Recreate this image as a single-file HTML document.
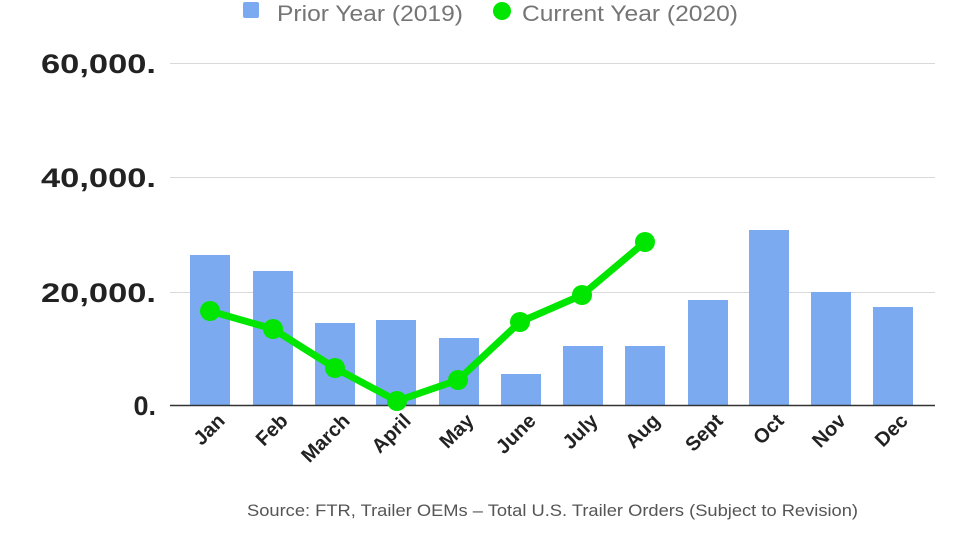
<!DOCTYPE html>
<html><head><style>body{margin:0;background:#fff}svg{display:block}</style></head><body>
<svg width="980" height="552" xmlns="http://www.w3.org/2000/svg" font-family="Liberation Sans, sans-serif">
<rect x="243" y="2" width="16" height="16" rx="2" fill="#7baaf0"/>
<text x="277" y="21" font-size="22" fill="#757575" textLength="186" lengthAdjust="spacingAndGlyphs">Prior Year (2019)</text>
<circle cx="502" cy="11" r="9" fill="#00e600"/>
<text x="522" y="21" font-size="22" fill="#757575" textLength="216" lengthAdjust="spacingAndGlyphs">Current Year (2020)</text>
<g stroke="#d9d9d9" stroke-width="1">
<line x1="170" y1="63.5" x2="935" y2="63.5"/><line x1="170" y1="177.5" x2="935" y2="177.5"/><line x1="170" y1="292.5" x2="935" y2="292.5"/>
</g>
<g font-size="27" font-weight="bold" fill="#222" text-anchor="end">
<text x="156" y="73" textLength="115" lengthAdjust="spacingAndGlyphs">60,000.</text><text x="156" y="187" textLength="115" lengthAdjust="spacingAndGlyphs">40,000.</text><text x="156" y="302" textLength="115" lengthAdjust="spacingAndGlyphs">20,000.</text><text x="156" y="415">0.</text>
</g>
<g fill="#7baaf0">
<rect x="190" y="255" width="40" height="150"/><rect x="253" y="271" width="40" height="134"/><rect x="315" y="323" width="40" height="82"/><rect x="376" y="320" width="40" height="85"/><rect x="439" y="338" width="40" height="67"/><rect x="501" y="374" width="40" height="31"/><rect x="563" y="346" width="40" height="59"/><rect x="625" y="346" width="40" height="59"/><rect x="688" y="300" width="40" height="105"/><rect x="749" y="230" width="40" height="175"/><rect x="811" y="292" width="40" height="113"/><rect x="873" y="307" width="40" height="98"/>
</g>
<line x1="170" y1="405.5" x2="935" y2="405.5" stroke="#333" stroke-width="1.5"/>
<polyline points="210,311 273,329 335,368 397,401 458,380 520,322 582,295 645,242" fill="none" stroke="#00e600" stroke-width="7" stroke-linejoin="round"/>
<g fill="#00e600">
<circle cx="210" cy="311" r="10"/><circle cx="273" cy="329" r="10"/><circle cx="335" cy="368" r="10"/><circle cx="397" cy="401" r="10"/><circle cx="458" cy="380" r="10"/><circle cx="520" cy="322" r="10"/><circle cx="582" cy="295" r="10"/><circle cx="645" cy="242" r="10"/>
</g>
<g font-size="20" font-weight="bold" fill="#222" text-anchor="end">
<text transform="translate(226,422) rotate(-45)">Jan</text>
<text transform="translate(289,422) rotate(-45)">Feb</text>
<text transform="translate(351,422) rotate(-45)">March</text>
<text transform="translate(412,422) rotate(-45)">April</text>
<text transform="translate(475,422) rotate(-45)">May</text>
<text transform="translate(537,422) rotate(-45)">June</text>
<text transform="translate(599,422) rotate(-45)">July</text>
<text transform="translate(661,422) rotate(-45)">Aug</text>
<text transform="translate(724,422) rotate(-45)">Sept</text>
<text transform="translate(785,422) rotate(-45)">Oct</text>
<text transform="translate(847,422) rotate(-45)">Nov</text>
<text transform="translate(909,422) rotate(-45)">Dec</text>
</g>
<text x="247" y="516" font-size="17" fill="#555" textLength="611" lengthAdjust="spacingAndGlyphs">Source: FTR, Trailer OEMs – Total U.S. Trailer Orders (Subject to Revision)</text>
</svg>
</body></html>
